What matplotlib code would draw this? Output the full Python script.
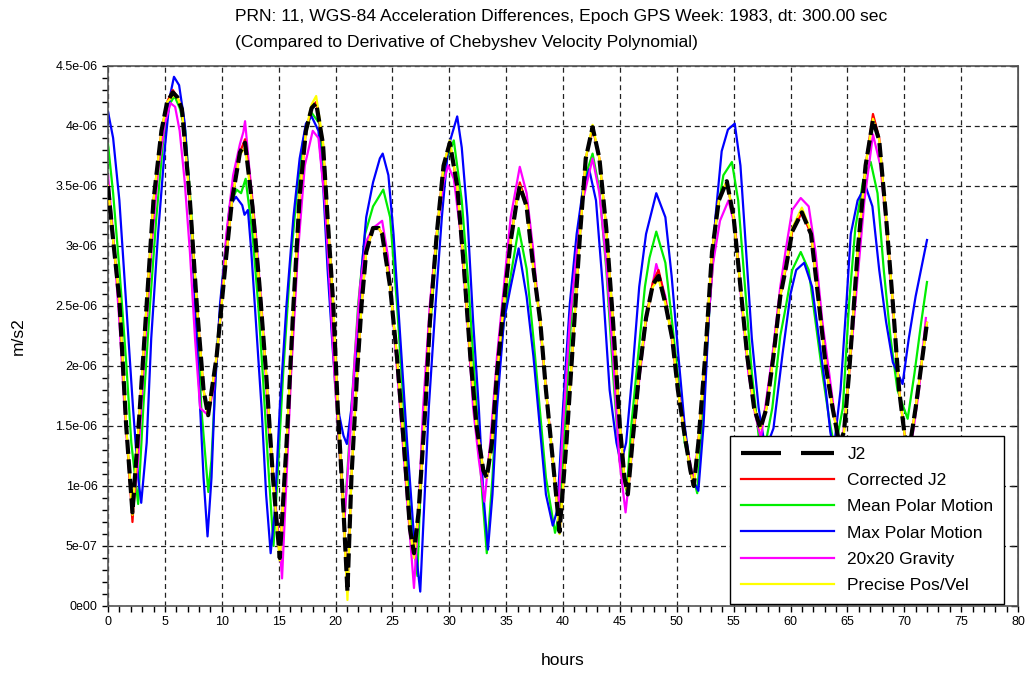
import numpy as np
import matplotlib
matplotlib.use("Agg")
import matplotlib.pyplot as plt
from matplotlib.lines import Line2D
from matplotlib.ticker import MultipleLocator, NullLocator

plt.rcParams["font.family"] = ["Liberation Sans", "DejaVu Sans"]

# (hours, acceleration difference in 1e-6 m/s2) read per series
j2 = np.array([
    (0.0, 3.50), (0.45, 3.05), (1.0, 2.55), (1.6, 1.50), (2.15, 0.78), (2.8, 1.65),
    (3.4, 2.52), (4.0, 3.38), (4.7, 3.96), (5.2, 4.20), (5.7, 4.28), (6.1, 4.24),
    (6.5, 4.14), (7.2, 3.38), (7.8, 2.52), (8.4, 1.80), (8.8, 1.59), (9.55, 2.08),
    (10.4, 2.92), (10.9, 3.38), (11.6, 3.78), (12.05, 3.86), (12.7, 3.33), (13.3, 2.69),
    (13.9, 1.94), (14.5, 1.07), (15.1, 0.40), (15.7, 1.36), (16.3, 2.50), (16.85, 3.42),
    (17.4, 3.96), (17.9, 4.15), (18.3, 4.19), (18.9, 3.85), (19.3, 3.24), (19.8, 2.52),
    (20.2, 1.65), (20.7, 0.80), (21.05, 0.12), (21.4, 1.07), (21.9, 1.94), (22.3, 2.52),
    (22.7, 2.95), (23.3, 3.15), (23.8, 3.15), (24.1, 3.10), (24.8, 2.66), (25.4, 2.08),
    (26.0, 1.36), (26.55, 0.64), (26.9, 0.44), (27.3, 0.78), (27.9, 1.65), (28.3, 2.37),
    (28.9, 3.10), (29.5, 3.67), (30.05, 3.86), (30.7, 3.50), (31.3, 2.81), (31.85, 2.08),
    (32.4, 1.50), (33.0, 1.13), (33.3, 1.07), (33.75, 1.36), (34.2, 1.94), (34.8, 2.52),
    (35.4, 3.04), (35.9, 3.35), (36.2, 3.50), (36.8, 3.33), (37.4, 2.81), (38.0, 2.37),
    (38.5, 1.80), (39.1, 1.22), (39.7, 0.62), (40.3, 1.36), (40.9, 2.23), (41.5, 3.10),
    (42.0, 3.73), (42.6, 3.99), (43.2, 3.73), (43.8, 3.15), (44.4, 2.37), (45.0, 1.50),
    (45.4, 1.07), (45.7, 0.93), (46.1, 1.36), (46.7, 1.94), (47.3, 2.40), (47.9, 2.68),
    (48.4, 2.75), (49.0, 2.52), (49.6, 2.23), (50.1, 1.80), (50.7, 1.42), (51.2, 1.13),
    (51.5, 1.00), (51.9, 1.36), (52.5, 2.08), (53.1, 2.95), (53.7, 3.38), (54.4, 3.54),
    (55.0, 3.24), (55.6, 2.66), (56.2, 2.08), (56.8, 1.65), (57.35, 1.48), (57.9, 1.65),
    (58.5, 2.08), (59.1, 2.58), (59.6, 2.82), (60.15, 3.12), (61.0, 3.28), (61.8, 3.10),
    (62.5, 2.52), (63.1, 2.00), (63.7, 1.65), (64.3, 1.35), (64.7, 1.45), (65.15, 1.94),
    (65.9, 2.95), (66.6, 3.67), (67.25, 4.05), (67.8, 3.88), (68.4, 3.24), (69.0, 2.52),
    (69.55, 1.80), (70.0, 1.45), (70.35, 1.25), (71.0, 1.65), (71.6, 2.08), (72.0, 2.36),
])

corrected_j2 = np.array([
    (0.0, 3.50), (0.45, 3.05), (1.0, 2.55), (1.6, 1.50), (2.15, 0.70), (2.8, 1.65),
    (3.4, 2.52), (4.0, 3.38), (4.7, 3.96), (5.2, 4.20), (5.7, 4.30), (6.1, 4.24),
    (6.5, 4.14), (7.2, 3.38), (7.8, 2.52), (8.4, 1.80), (8.8, 1.59), (9.55, 2.08),
    (10.4, 2.92), (10.9, 3.38), (11.6, 3.78), (12.05, 3.89), (12.7, 3.33), (13.3, 2.69),
    (13.9, 1.94), (14.5, 1.07), (15.1, 0.40), (15.7, 1.36), (16.3, 2.50), (16.85, 3.42),
    (17.4, 3.96), (17.9, 4.15), (18.3, 4.20), (18.9, 3.85), (19.3, 3.24), (19.8, 2.52),
    (20.2, 1.65), (20.7, 0.80), (21.05, 0.12), (21.4, 1.07), (21.9, 1.94), (22.3, 2.52),
    (22.7, 2.95), (23.3, 3.15), (23.8, 3.15), (24.1, 3.10), (24.8, 2.66), (25.4, 2.08),
    (26.0, 1.36), (26.55, 0.64), (26.9, 0.44), (27.3, 0.78), (27.9, 1.65), (28.3, 2.37),
    (28.9, 3.10), (29.5, 3.67), (30.05, 3.86), (30.7, 3.50), (31.3, 2.81), (31.85, 2.08),
    (32.4, 1.50), (33.0, 1.13), (33.3, 1.07), (33.75, 1.36), (34.2, 1.94), (34.8, 2.52),
    (35.4, 3.04), (35.9, 3.37), (36.2, 3.53), (36.8, 3.35), (37.4, 2.81), (38.0, 2.37),
    (38.5, 1.80), (39.1, 1.22), (39.7, 0.62), (40.3, 1.36), (40.9, 2.23), (41.5, 3.10),
    (42.0, 3.73), (42.6, 3.99), (43.2, 3.73), (43.8, 3.15), (44.4, 2.37), (45.0, 1.50),
    (45.4, 1.07), (45.7, 0.93), (46.1, 1.36), (46.7, 1.94), (47.3, 2.40), (47.9, 2.70),
    (48.4, 2.80), (49.0, 2.55), (49.6, 2.23), (50.1, 1.80), (50.7, 1.42), (51.2, 1.13),
    (51.5, 1.00), (51.9, 1.36), (52.5, 2.08), (53.1, 2.95), (53.7, 3.38), (54.4, 3.54),
    (55.0, 3.24), (55.6, 2.66), (56.2, 2.08), (56.8, 1.65), (57.35, 1.48), (57.9, 1.65),
    (58.5, 2.08), (59.1, 2.58), (59.6, 2.82), (60.15, 3.12), (61.0, 3.28), (61.8, 3.10),
    (62.5, 2.52), (63.1, 2.00), (63.7, 1.65), (64.3, 1.35), (64.7, 1.45), (65.15, 1.94),
    (65.9, 2.95), (66.6, 3.67), (67.25, 4.10), (67.8, 3.90), (68.4, 3.24), (69.0, 2.52),
    (69.55, 1.80), (70.0, 1.45), (70.35, 1.25), (71.0, 1.65), (71.6, 2.08), (72.0, 2.36),
])

mean_polar = np.array([
    (0.0, 3.85), (0.45, 3.44), (1.0, 2.81), (1.6, 2.03), (2.05, 1.36), (2.65, 0.85),
    (3.1, 1.65), (3.7, 2.52), (4.25, 3.24), (4.85, 3.88), (5.4, 4.18), (5.85, 4.25),
    (6.3, 4.15), (6.8, 3.96), (7.25, 3.38), (7.8, 2.52), (8.2, 1.65), (8.82, 0.95),
    (9.1, 1.22), (9.55, 2.08), (10.15, 2.81), (10.7, 3.33), (11.3, 3.47), (11.7, 3.44),
    (12.1, 3.56), (12.7, 3.10), (13.2, 2.52), (13.6, 1.94), (14.05, 1.22), (14.55, 0.50),
    (14.9, 1.07), (15.4, 1.94), (16.0, 2.81), (16.6, 3.44), (17.15, 3.88), (17.9, 4.11),
    (18.6, 4.02), (19.05, 3.53), (19.5, 2.81), (19.9, 1.94), (20.4, 1.22), (20.8, 0.75),
    (21.4, 1.65), (22.0, 2.52), (22.6, 3.10), (23.3, 3.33), (24.2, 3.47), (24.8, 3.24),
    (25.4, 2.52), (26.0, 1.65), (26.55, 0.78), (27.2, 0.25), (27.6, 1.36), (28.0, 1.94),
    (28.6, 2.66), (29.2, 3.38), (29.8, 3.73), (30.4, 3.88), (31.1, 3.38), (31.7, 2.66),
    (32.3, 1.80), (32.9, 0.93), (33.3, 0.44), (33.8, 1.07), (34.2, 1.80), (34.8, 2.37),
    (35.4, 2.75), (36.1, 3.15), (36.8, 2.81), (37.4, 2.23), (37.95, 1.65), (38.5, 1.07),
    (39.3, 0.61), (39.7, 0.78), (40.15, 1.50), (40.7, 2.37), (41.3, 3.10), (41.9, 3.56),
    (42.6, 3.77), (43.2, 3.47), (43.8, 2.81), (44.4, 1.94), (44.95, 1.22), (45.6, 0.95),
    (46.0, 1.50), (46.6, 2.08), (47.2, 2.66), (47.6, 2.90), (48.2, 3.12), (49.0, 2.86),
    (49.55, 2.40), (50.15, 1.88), (50.7, 1.36), (51.8, 0.94), (52.35, 1.65), (52.9, 2.52),
    (53.5, 3.24), (54.1, 3.59), (54.85, 3.70), (55.4, 3.38), (56.0, 2.66), (56.6, 1.94),
    (57.2, 1.42), (57.7, 1.30), (58.4, 1.65), (59.1, 2.25), (59.6, 2.50), (60.15, 2.80),
    (60.9, 2.95), (61.6, 2.80), (62.2, 2.37), (62.8, 1.94), (63.4, 1.56), (63.9, 1.30),
    (64.6, 1.65), (65.15, 2.52), (65.7, 3.15), (66.4, 3.55), (67.05, 3.70), (67.65, 3.44),
    (68.2, 2.80), (68.8, 2.23), (69.4, 1.80), (70.3, 1.56), (70.9, 1.94), (71.5, 2.37),
    (72.0, 2.70),
])

max_polar = np.array([
    (0.0, 4.12), (0.45, 3.90), (1.0, 3.38), (1.6, 2.52), (2.2, 1.65), (2.65, 1.07),
    (2.92, 0.86), (3.4, 1.36), (3.8, 2.23), (4.4, 3.10), (5.0, 3.82), (5.45, 4.25),
    (5.8, 4.41), (6.25, 4.34), (6.75, 4.02), (7.2, 3.38), (7.65, 2.52), (8.1, 1.65),
    (8.4, 1.07), (8.75, 0.58), (9.1, 1.07), (9.4, 1.80), (9.85, 2.52), (10.3, 2.95),
    (10.7, 3.33), (11.25, 3.41), (11.8, 3.34), (12.0, 3.26), (12.3, 3.30), (12.6, 2.95),
    (13.0, 2.37), (13.5, 1.65), (13.9, 0.93), (14.3, 0.44), (14.65, 0.78), (15.1, 1.65),
    (15.7, 2.52), (16.3, 3.24), (16.85, 3.73), (17.4, 4.02), (17.9, 4.08), (18.5, 3.96),
    (18.9, 3.53), (19.3, 2.81), (19.8, 2.08), (20.2, 1.65), (20.7, 1.42), (21.0, 1.35),
    (21.4, 1.65), (21.9, 2.23), (22.3, 2.81), (22.7, 3.24), (23.3, 3.53), (23.9, 3.73),
    (24.15, 3.77), (24.65, 3.59), (25.1, 3.10), (25.7, 2.23), (26.3, 1.36), (26.85, 0.64),
    (27.45, 0.12), (27.7, 0.64), (28.2, 1.65), (28.8, 2.52), (29.35, 3.24), (29.9, 3.82),
    (30.7, 4.08), (31.1, 3.82), (31.6, 3.24), (32.1, 2.37), (32.6, 1.65), (33.0, 0.93),
    (33.4, 0.47), (33.8, 0.93), (34.2, 1.65), (34.8, 2.37), (35.4, 2.66), (36.1, 2.98),
    (36.8, 2.58), (37.4, 2.08), (37.95, 1.50), (38.5, 0.93), (39.1, 0.67), (39.5, 0.80),
    (40.0, 1.65), (40.6, 2.52), (41.2, 3.10), (41.75, 3.47), (42.3, 3.64), (42.9, 3.38),
    (43.5, 2.66), (44.1, 1.80), (44.7, 1.36), (45.1, 1.19), (45.55, 1.36), (46.1, 1.94),
    (46.7, 2.66), (47.3, 3.10), (48.2, 3.44), (49.0, 3.24), (49.55, 2.75), (50.15, 2.08),
    (50.7, 1.50), (51.3, 1.07), (51.9, 0.96), (52.35, 1.50), (52.8, 2.37), (53.4, 3.24),
    (53.95, 3.79), (54.5, 3.97), (55.1, 4.02), (55.6, 3.67), (56.0, 3.10), (56.6, 2.23),
    (57.2, 1.65), (57.8, 1.30), (58.5, 1.48), (59.3, 2.10), (60.0, 2.60), (60.5, 2.80),
    (61.2, 2.86), (61.9, 2.66), (62.5, 2.23), (63.1, 1.80), (63.5, 1.45), (63.8, 1.30),
    (64.4, 1.80), (64.9, 2.50), (65.3, 3.10), (65.9, 3.38), (66.6, 3.50), (67.2, 3.33),
    (67.8, 2.80), (68.4, 2.37), (69.0, 2.03), (69.85, 1.85), (70.4, 2.23), (71.0, 2.58),
    (71.6, 2.86), (72.0, 3.05),
])

gravity_20x20 = np.array([
    (0.0, 3.59), (0.45, 3.10), (1.0, 2.37), (1.45, 1.65), (1.9, 1.07), (2.25, 0.84),
    (2.65, 1.22), (3.2, 2.08), (3.8, 2.95), (4.4, 3.62), (5.0, 4.02), (5.5, 4.19),
    (5.9, 4.16), (6.3, 3.96), (6.75, 3.53), (7.2, 2.95), (7.65, 2.23), (8.1, 1.65),
    (8.8, 1.59), (9.25, 1.80), (9.85, 2.37), (10.4, 3.10), (11.0, 3.59), (11.6, 3.85),
    (11.9, 3.95), (12.05, 4.04), (12.4, 3.67), (13.0, 3.10), (13.6, 2.37), (14.1, 1.50),
    (14.65, 0.93), (15.1, 0.49), (15.3, 0.23), (15.7, 1.07), (16.1, 1.94), (16.7, 2.95),
    (17.3, 3.67), (18.0, 3.96), (18.5, 3.90), (19.05, 3.38), (19.5, 2.66), (19.9, 1.94),
    (20.4, 1.22), (20.8, 0.73), (21.25, 1.36), (21.7, 2.08), (22.15, 2.66), (22.7, 3.04),
    (23.3, 3.15), (24.1, 3.21), (24.6, 2.92), (25.2, 2.23), (25.8, 1.50), (26.4, 0.78),
    (26.9, 0.15), (27.3, 0.78), (27.7, 1.65), (28.3, 2.52), (28.9, 3.10), (29.5, 3.53),
    (29.9, 3.67), (30.4, 3.56), (31.0, 3.10), (31.6, 2.37), (32.1, 1.65), (32.6, 1.22),
    (33.1, 0.87), (33.6, 1.36), (34.2, 2.08), (34.8, 2.66), (35.4, 3.24), (36.2, 3.66),
    (36.8, 3.44), (37.4, 2.95), (37.95, 2.37), (38.5, 1.80), (39.1, 1.22), (39.6, 0.81),
    (40.0, 1.50), (40.6, 2.37), (41.2, 2.95), (41.75, 3.38), (42.6, 3.73), (43.2, 3.44),
    (43.8, 2.86), (44.4, 2.08), (44.95, 1.22), (45.5, 0.78), (46.0, 1.22), (46.6, 1.80),
    (47.3, 2.37), (48.2, 2.85), (49.0, 2.58), (49.55, 2.23), (50.15, 1.80), (50.7, 1.42),
    (51.5, 1.04), (52.05, 1.50), (52.65, 2.23), (53.2, 2.86), (53.8, 3.21), (54.55, 3.38),
    (55.15, 3.15), (55.7, 2.52), (56.3, 1.94), (56.9, 1.59), (57.4, 1.40), (58.4, 2.08),
    (59.1, 2.66), (59.6, 2.98), (60.15, 3.30), (60.9, 3.40), (61.6, 3.33), (62.2, 2.95),
    (62.8, 2.37), (63.4, 1.94), (64.0, 1.50), (64.5, 1.30), (65.15, 1.94), (65.7, 2.52),
    (66.5, 3.38), (67.25, 3.93), (67.9, 3.67), (68.5, 3.10), (69.1, 2.37), (69.55, 1.80),
    (70.0, 1.45), (70.4, 1.20), (71.3, 1.80), (71.9, 2.40),
])

precise_posvel = np.array([
    (0.0, 3.50), (0.45, 3.05), (1.0, 2.55), (1.6, 1.50), (2.15, 0.76), (2.8, 1.65),
    (3.4, 2.52), (4.0, 3.38), (4.7, 3.96), (5.2, 4.20), (5.7, 4.25), (6.1, 4.24),
    (6.5, 4.14), (7.2, 3.38), (7.8, 2.52), (8.4, 1.80), (8.8, 1.59), (9.55, 2.08),
    (10.4, 2.92), (10.9, 3.38), (11.6, 3.76), (12.05, 3.82), (12.7, 3.33), (13.3, 2.69),
    (13.9, 1.94), (14.5, 1.07), (15.1, 0.38), (15.7, 1.36), (16.3, 2.50), (16.85, 3.42),
    (17.4, 3.96), (17.9, 4.18), (18.3, 4.25), (18.9, 3.87), (19.3, 3.24), (19.8, 2.52),
    (20.2, 1.65), (20.7, 0.80), (21.05, 0.05), (21.4, 1.07), (21.9, 1.94), (22.3, 2.52),
    (22.7, 2.95), (23.3, 3.15), (23.8, 3.15), (24.1, 3.10), (24.8, 2.66), (25.4, 2.08),
    (26.0, 1.36), (26.55, 0.64), (26.9, 0.40), (27.3, 0.78), (27.9, 1.65), (28.3, 2.37),
    (28.9, 3.10), (29.5, 3.67), (30.05, 3.88), (30.7, 3.50), (31.3, 2.81), (31.85, 2.08),
    (32.4, 1.50), (33.0, 1.13), (33.3, 1.07), (33.75, 1.36), (34.2, 1.94), (34.8, 2.52),
    (35.4, 3.04), (35.9, 3.35), (36.2, 3.50), (36.8, 3.33), (37.4, 2.81), (38.0, 2.37),
    (38.5, 1.80), (39.1, 1.22), (39.7, 0.60), (40.3, 1.36), (40.9, 2.23), (41.5, 3.10),
    (42.0, 3.73), (42.6, 4.01), (43.2, 3.73), (43.8, 3.15), (44.4, 2.37), (45.0, 1.50),
    (45.4, 1.07), (45.7, 0.93), (46.1, 1.36), (46.7, 1.94), (47.3, 2.40), (47.9, 2.66),
    (48.4, 2.72), (49.0, 2.52), (49.6, 2.23), (50.1, 1.80), (50.7, 1.42), (51.2, 1.13),
    (51.5, 1.00), (51.9, 1.36), (52.5, 2.08), (53.1, 2.95), (53.7, 3.38), (54.4, 3.54),
    (55.0, 3.24), (55.6, 2.66), (56.2, 2.08), (56.8, 1.65), (57.35, 1.48), (57.9, 1.65),
    (58.5, 2.08), (59.1, 2.58), (59.6, 2.84), (60.15, 3.15), (61.0, 3.32), (61.8, 3.12),
    (62.5, 2.52), (63.1, 2.00), (63.7, 1.65), (64.3, 1.35), (64.7, 1.45), (65.15, 1.94),
    (65.9, 2.95), (66.6, 3.67), (67.25, 4.06), (67.8, 3.88), (68.4, 3.24), (69.0, 2.52),
    (69.55, 1.80), (70.0, 1.45), (70.35, 1.25), (71.0, 1.65), (71.6, 2.08), (72.0, 2.36),
])

series_labels = ["J2", "Corrected J2", "Mean Polar Motion", "Max Polar Motion",
                 "20x20 Gravity", "Precise Pos/Vel"]
x_ticks = list(range(0, 81, 5))
y_ticks = [0.0, 0.5e-6, 1.0e-6, 1.5e-6, 2.0e-6, 2.5e-6, 3.0e-6, 3.5e-6, 4.0e-6, 4.5e-6]
y_tick_labels = ["0e00", "5e-07", "1e-06", "1.5e-06", "2e-06", "2.5e-06",
                 "3e-06", "3.5e-06", "4e-06", "4.5e-06"]

SCALE = 1e-6

fig = plt.figure(figsize=(10.27, 6.75), dpi=100)
ax = fig.add_axes((108 / 1027, 1 - 606 / 675, 910 / 1027, 540 / 675))

styles = [
    (j2, "black", 3.0, 6),
    (corrected_j2, "#ff0000", 1.6, 3),
    (mean_polar, "#00ee00", 1.6, 2),
    (max_polar, "#0000ff", 1.6, 2),
    (gravity_20x20, "#ff00ff", 1.6, 2),
    (precise_posvel, "#ffff00", 1.6, 4),
]
handles = []
for (data, color, lw, z), label in zip(styles, series_labels):
    line, = ax.plot(data[:, 0], data[:, 1] * SCALE, color=color, lw=lw,
                    zorder=z, label=label, solid_joinstyle="round")
    if label == "J2":
        line.set_dashes((3.4, 1.3))
    handles.append(line)

# longer dashes in the key
j2_key = Line2D([], [], color="black", lw=3.0, dashes=(9.6, 4.8))

ax.set_xlim(0, 80)
ax.set_ylim(0, 4.5e-6)
ax.set_xticks(x_ticks)
ax.set_yticks(y_ticks)
ax.set_yticklabels(y_tick_labels)
ax.xaxis.set_minor_locator(MultipleLocator(1))
ax.yaxis.set_minor_locator(MultipleLocator(1e-7))
ax.tick_params(which="both", direction="out", length=4, width=1, labelsize=9,
               colors="black", right=False, top=False)
ax.grid(True, which="major", color="#222222", lw=0.9, linestyle=(0, (4, 3)))
ax.set_axisbelow(True)
for side in ax.spines.values():
    side.set_color("#555555")
    side.set_linewidth(1.2)

# short inward marks on the right edge at the major values
right = ax.secondary_yaxis("right")
right.set_yticks(y_ticks)
right.yaxis.set_minor_locator(NullLocator())
right.tick_params(direction="in", length=5, width=1, labelright=False)
right.spines["right"].set_color("#555555")

ax.set_xlabel("hours", fontsize=12.5)
ax.set_ylabel("m/s2", fontsize=12.5)
ax.xaxis.set_label_coords(0.5, -0.087)
ax.yaxis.set_label_coords(-0.099, 0.5)
ax.yaxis.label.set_va("center")

fig.text(235 / 1027, 1 - 9 / 675,
         "PRN: 11, WGS-84 Acceleration Differences, Epoch GPS Week: 1983, dt: 300.00 sec\n"
         "(Compared to Derivative of Chebyshev Velocity Polynomial)",
         ha="left", va="top", fontsize=12.6, linespacing=1.92)

leg = ax.legend([j2_key] + handles[1:], series_labels, loc="lower right",
                bbox_to_anchor=(0.985, 0.004), borderaxespad=0, fontsize=12.5,
                handlelength=5.4, handletextpad=0.75, labelspacing=0.64,
                fancybox=False, framealpha=1, edgecolor="black",
                borderpad=0.62)
leg.get_frame().set_linewidth(1.0)
leg.set_zorder(10)

fig.savefig("out.png", dpi=100)
